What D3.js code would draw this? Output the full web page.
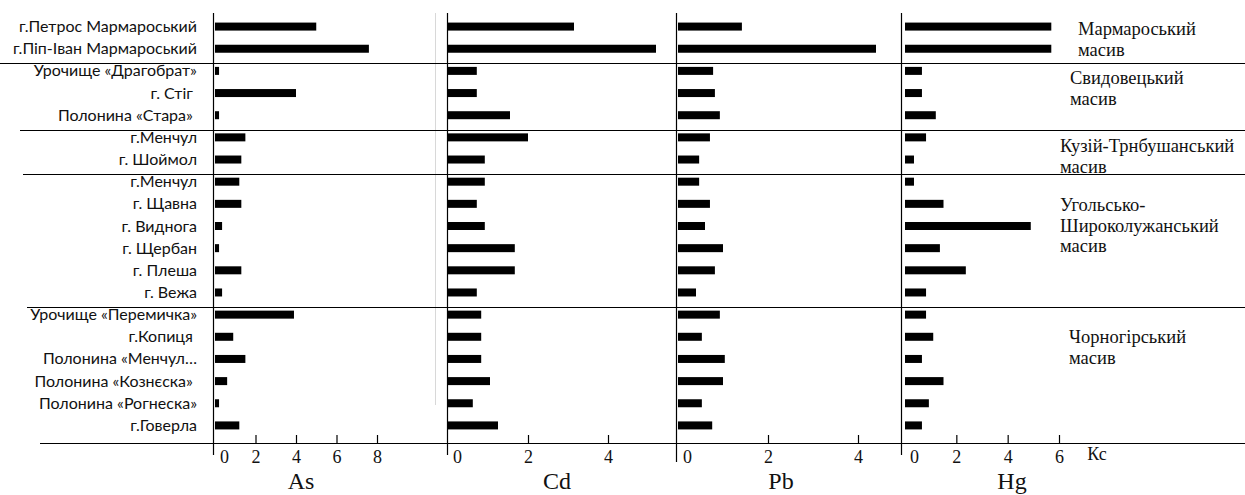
<!DOCTYPE html>
<html><head><meta charset="utf-8">
<script src="https://cdn.jsdelivr.net/npm/d3@7"></script>
<style>
html,body{margin:0;padding:0;background:#fff;}
svg{display:block;}
.lbl{font-family:Lato,"Noto Sans",sans-serif;font-size:16px;white-space:pre;}
</style></head>
<body>
<svg id="c" width="1245" height="495"></svg>
<script>
const sites = ["г.Петрос Мармароський","г.Піп-Іван Мармароський","Урочище «Драгобрат»","г. Стіг ","Полонина «Стара» ","г.Менчул","г. Шоймол","г.Менчул","г. Щавна","г. Виднога","г. Щербан","г. Плеша","г. Вежа","Урочище «Перемичка»","г.Копиця ","Полонина «Менчул…","Полонина «Кознєска» ","Полонина «Рогнеска»","г.Говерла"];
const asVals = [5.0,7.6,0.2,4.0,0.2,1.5,1.3,1.2,1.3,0.35,0.2,1.3,0.35,3.9,0.9,1.5,0.6,0.2,1.2];
const cdVals = [3.15,5.2,0.72,0.72,1.55,2.0,0.92,0.92,0.72,0.92,1.67,1.67,0.72,0.83,0.83,0.83,1.05,0.62,1.25];
const pbVals = [1.42,4.4,0.78,0.82,0.93,0.71,0.47,0.47,0.71,0.6,1.0,0.82,0.4,0.93,0.53,1.04,1.0,0.53,0.76];
const hgVals = [5.7,5.7,0.66,0.66,1.2,0.82,0.35,0.35,1.5,4.9,1.36,2.37,0.82,0.82,1.1,0.66,1.5,0.93,0.66];
const elements = ["As","Cd","Pb","Hg"];
const tickSets = [[0,2,4,6,8],[0,2,4],[0,2,4],[0,2,4,6]];
const groupStarts = [2,5,7,13];
const groupNames = [["Мармароський","масив"],["Свидовецький","масив"],["Кузій-Трнбушанський","масив"],["Угольсько-","Широколужанський","масив"],["Чорногірський","масив"]];
const unitLabel = "Кс";

const SERIF = "'Liberation Serif','Times New Roman',Times,serif";
const svg = d3.select("#c");
const idx = d3.range(sites.length);
const y = d3.scaleBand().domain(idx).range([16,437]);
const step = y.step();
const barH = 8;

const panels = [
  {vals: asVals, dom:[0,8], rng:[215,377], axisX:213, titleX:301},
  {vals: cdVals, dom:[0,4], rng:[448,608], axisX:447, titleX:557},
  {vals: pbVals, dom:[0,4], rng:[678,858], axisX:676, titleX:781},
  {vals: hgVals, dom:[0,6], rng:[905,1059], axisX:901, titleX:1012}
];

// faint grey vertical line
svg.append("line").attr("x1",435.5).attr("x2",435.5).attr("y1",13).attr("y2",405).attr("stroke","#d8d8d8").attr("stroke-width",1);

// group separators
const sepStartX = [0,20,23,27];
groupStarts.forEach((g,i)=>{
  const yy = Math.round(y(g)+3)+0.5;
  svg.append("line").attr("x1",sepStartX[i]).attr("x2",1245).attr("y1",yy).attr("y2",yy).attr("stroke","#000").attr("stroke-width",1.2);
});
// bottom axis line
svg.append("line").attr("x1",40).attr("x2",1245).attr("y1",443.5).attr("y2",443.5).attr("stroke","#000").attr("stroke-width",1.2);

// site labels
svg.append("g").selectAll("text").data(sites).join("text")
  .attr("class","lbl").attr("x",197).attr("y",(d,i)=>y(i)+step/2+5)
  .attr("text-anchor","end").attr("fill","#111").text(d=>d);

panels.forEach((p,pi)=>{
  const x = d3.scaleLinear().domain(p.dom).range(p.rng);
  const g = svg.append("g");
  g.append("line").attr("x1",p.axisX+0.5).attr("x2",p.axisX+0.5).attr("y1",13).attr("y2",pi===2?462:455).attr("stroke","#000").attr("stroke-width",1.2);
  g.selectAll("rect").data(p.vals).join("rect")
    .attr("x",x(0)).attr("y",(d,i)=>y(i)+step/2-barH/2-0.5)
    .attr("width",d=>x(d)-x(0)).attr("height",barH).attr("fill","#000");
  const ax = d3.axisBottom(x).tickValues(tickSets[pi]).tickSizeInner(-8).tickSizeOuter(0).tickPadding(7).tickFormat(d3.format("d"));
  const ag = svg.append("g").attr("transform","translate(0,443)").call(ax);
  ag.attr("font-family",null).attr("font-size",null);
  ag.select(".domain").remove();
  ag.selectAll(".tick line").attr("stroke","#000").attr("stroke-width",1.2).filter(d=>d===0).remove();
  ag.selectAll(".tick text").style("font-family",SERIF).style("font-size","18px").attr("fill","#111")
    .attr("dx",d=>d===0?9:0);
  svg.append("text").style("font-family",SERIF).style("font-size","24px").attr("x",p.titleX).attr("y",489).attr("text-anchor","middle").attr("fill","#111").text(elements[pi]);
});

svg.append("text").style("font-family",SERIF).style("font-size","18px").attr("x",1097).attr("y",460).attr("text-anchor","middle").attr("fill","#111").text(unitLabel);

// group names
const gPos = [[1078,35],[1070,84],[1060,152],[1060,211],[1069,343]];
groupNames.forEach((lines,i)=>{
  lines.forEach((t,j)=>{
    svg.append("text").style("font-family",SERIF).style("font-size","18.5px").attr("x",gPos[i][0]).attr("y",gPos[i][1]+j*20.5).attr("fill","#111").text(t);
  });
});
</script>
</body></html>
